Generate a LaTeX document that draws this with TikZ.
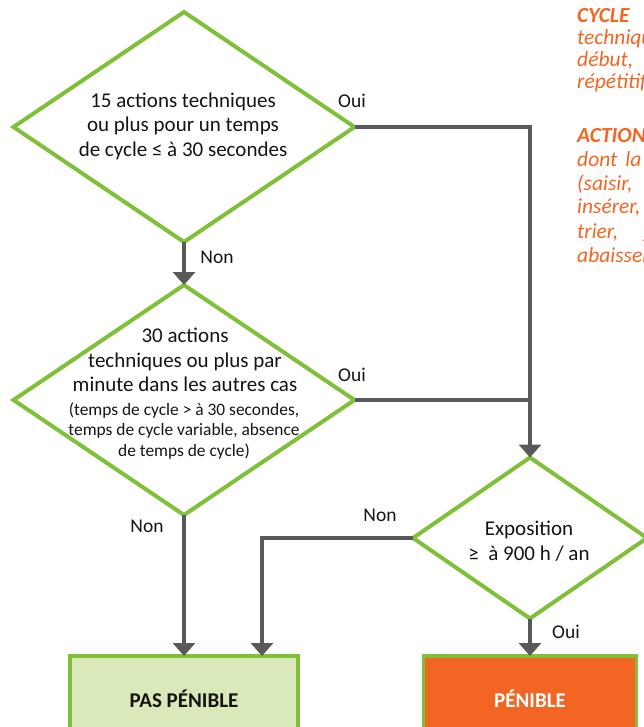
\documentclass[tikz,border=0pt]{standalone}
\usepackage{fontspec}
\setmainfont{Carlito}
\usetikzlibrary{shapes.geometric,arrows.meta}

\definecolor{leaf}{RGB}{128,192,56}
\definecolor{wire}{RGB}{89,89,89}
\definecolor{paleleaf}{RGB}{217,233,186}
\definecolor{alert}{RGB}{242,101,34}
\definecolor{ink}{RGB}{20,20,20}

\tikzset{
  decision/.style={diamond, draw=leaf, line width=4pt, inner sep=0pt, outer sep=0pt},
  flow/.style={draw=wire, line width=4pt, -{Triangle[width=22pt,length=13pt]}},
  joinline/.style={draw=wire, line width=4pt},
  verdict/.style={rectangle, draw=leaf, line width=3.5pt, minimum height=86pt,
    inner sep=0pt, outer sep=0pt, font=\fontsize{21}{25}\selectfont\bfseries},
  qtext/.style={align=center, text=ink, font=\fontsize{21}{24.5}\selectfont, inner sep=0pt},
  qsmall/.style={align=center, text=ink, font=\fontsize{17.4}{20.8}\selectfont, inner sep=0pt},
  tag/.style={text=ink, font=\fontsize{19.5}{23}\selectfont, inner sep=0pt},
  note/.style={anchor=base west, text=alert, font=\fontsize{21.5}{25}\selectfont\itshape, inner sep=0pt},
  notehead/.style={note, font=\fontsize{21.5}{25}\selectfont\itshape\bfseries},
}

\begin{document}
\begin{tikzpicture}[x=1pt, y=-1pt]
  \useasboundingbox (0,0) rectangle (644,727);
  \clip (0,0) rectangle (644,727);

  % decisions
  \node[decision, minimum width=341pt, minimum height=230pt] (d1) at (184,127) {};
  \node[decision, minimum width=341pt, minimum height=230pt] (d2) at (184,400) {};
  \node[decision, minimum width=234pt, minimum height=161pt] (d3) at (530,538) {};

  \node[qtext] (t1) at (183,126) {15 actions techniques\\ou plus pour un temps\\de cycle ≤ à 30 secondes};
  \node[qtext] (t2a) at (185,360) {30 actions\\techniques ou plus par\\minute dans les autres cas};
  \node[qsmall] (t2b) at (184,431) {(temps de cycle > à 30 secondes,\\temps de cycle variable, absence\\de temps de cycle)};
  \node[qtext] (t3) at (529,541) {Exposition\\≥~ à 900 h / an};

  % outcomes
  \node[verdict, fill=paleleaf, text=ink, minimum width=228pt] (ok) at (184,699) {PAS PÉNIBLE};
  \node[verdict, fill=alert, text=white, minimum width=213pt] (hard) at (530,699) {PÉNIBLE};

  % connectors
  \draw[flow] (d1.south) -- (d2.north);
  \draw[flow] (d1.east) -| (d3.north);
  \draw[joinline] (d2.east) -- (d2.east -| d3.north);
  \draw[flow] (d2.south) -- (ok.north);
  \draw[flow] (d3.west) -| ([xshift=78pt]ok.north);
  \draw[flow] (d3.south) -- (hard.north);

  % branch labels
  \node[tag] (l1) at (352,101) {Oui};
  \node[tag] (l2) at (217,257) {Non};
  \node[tag] (l3) at (352,375) {Oui};
  \node[tag] (l4) at (147,526) {Non};
  \node[tag] (l5) at (380,515) {Non};
  \node[tag] (l6) at (566,632) {Oui};

  % definitions column
  \node[notehead] (n1) at (577,23) {CYCLE};
  \node[note] (n2) at (577,45) {techniques};
  \node[note] (n3) at (577,67) {début,};
  \node[note] (n4) at (577,89) {répétitifs};
  \node[notehead] (n5) at (577,143) {ACTIONS};
  \node[note] (n6) at (577,167) {dont\hspace{8pt}la};
  \node[note] (n7) at (577,191) {(saisir,};
  \node[note] (n8) at (577,214) {insérer,};
  \node[note] (n9) at (577,238) {trier,\hspace{24pt}\_};
  \node[note] (n10) at (577,262) {abaisser,};
\end{tikzpicture}
\end{document}
